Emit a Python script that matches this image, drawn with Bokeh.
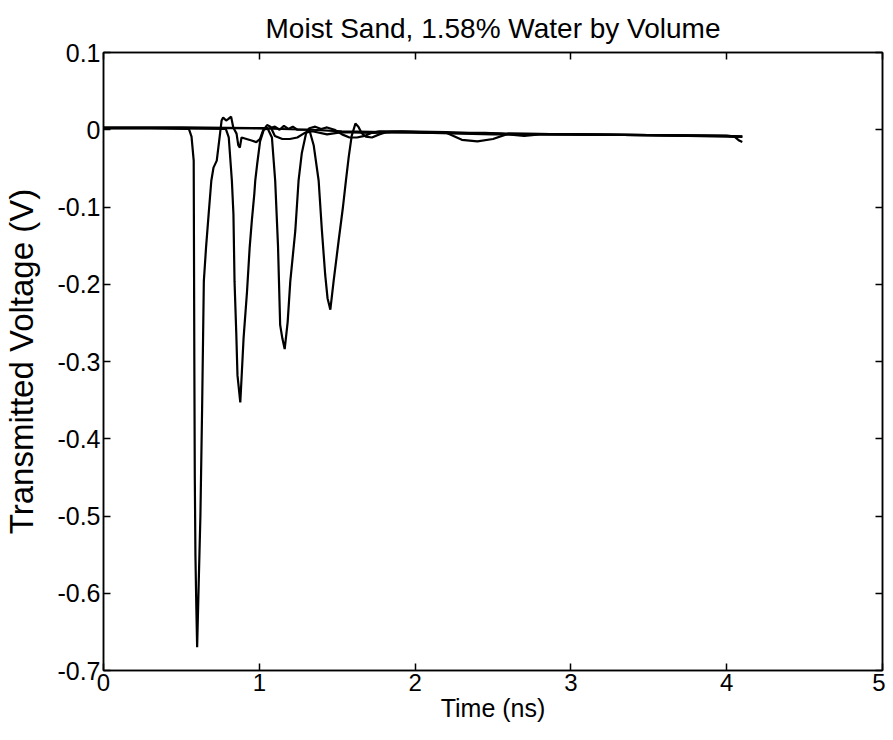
from bokeh.plotting import figure
from bokeh.models import FixedTicker, LinearAxis, CustomJSTickFormatter
from bokeh.embed import file_html
from bokeh.resources import INLINE

# ---- data (time in ns, voltage in V) ----
t_a = [0.0, 0.3, 0.548, 0.565, 0.579, 0.583, 0.586, 0.590, 0.596, 0.601, 0.611, 0.622,
       0.633, 0.644, 0.658, 0.675, 0.692, 0.706, 0.727, 0.748, 0.758, 0.768, 0.787, 0.802,
       0.819, 0.833, 0.854, 0.865, 0.875, 0.886, 0.918, 0.95, 0.981, 1.004, 1.026, 1.065,
       1.10, 1.13, 1.158, 1.187, 1.215, 1.244, 1.34, 1.53, 1.82, 2.2, 2.3, 2.4, 2.5, 2.6, 3.0,
       3.5, 4.0, 4.1]
v_a = [0.002, 0.002, 0.001, -0.009, -0.04, -0.30, -0.45, -0.55, -0.62, -0.67, -0.588, -0.50,
       -0.36, -0.196, -0.153, -0.109, -0.066, -0.049, -0.040, -0.005, 0.012, 0.016, 0.012, 0.014,
       0.017, 0.003, -0.005, -0.02, -0.023, -0.01, -0.012, -0.014, -0.016, -0.012, 0.0, 0.002,
       0.004, 0.0, 0.005, 0.001, 0.004, 0.0, 0.0, -0.002, -0.003, -0.004, -0.013, -0.015, -0.012, -0.005, -0.006,
       -0.007, -0.009, -0.009]

t_b = [0.0, 0.4, 0.785, 0.804, 0.824, 0.834, 0.841, 0.852, 0.860, 0.878, 0.888, 0.899,
       0.921, 0.938, 0.952, 0.968, 0.974, 0.986, 1.005, 1.029, 1.050, 1.072, 1.10, 1.148, 1.196,
       1.244, 1.292, 1.34, 1.435, 1.53, 1.72, 1.914, 2.5, 3.0, 3.5, 4.0, 4.05, 4.08, 4.1]
v_b = [0.002, 0.002, 0.001, -0.01, -0.066, -0.109, -0.196, -0.262, -0.318, -0.353, -0.314, -0.27,
       -0.21, -0.153, -0.118, -0.083, -0.066, -0.045, -0.015, 0.0, 0.006, 0.004, -0.008, -0.012, -0.012,
       -0.01, -0.004, -0.002, -0.006, -0.003, -0.004, -0.003, -0.006, -0.006, -0.007, -0.008, -0.009, -0.014, -0.016]

t_c = [0.0, 0.5, 1.053, 1.081, 1.102, 1.120, 1.134, 1.148, 1.163, 1.182, 1.199, 1.231, 1.252,
       1.273, 1.302, 1.321, 1.359, 1.397, 1.435, 1.483, 1.531, 1.579, 1.627, 1.675, 1.723, 1.77, 1.866,
       2.2, 2.6, 3.0, 3.5, 4.0, 4.1]
v_c = [0.002, 0.002, 0.002, -0.01, -0.066, -0.15, -0.253, -0.27, -0.284, -0.249, -0.196, -0.131, -0.066,
       -0.03, -0.003, 0.002, 0.004, 0.001, 0.003, 0.0, -0.006, -0.01, -0.01, -0.008, -0.004, -0.002, -0.002,
       -0.004, -0.005, -0.006, -0.007, -0.008, -0.009]

t_d = [0.0, 0.5, 0.957, 1.321, 1.349, 1.381, 1.402, 1.423, 1.438, 1.456, 1.477, 1.509, 1.537,
       1.556, 1.574, 1.593, 1.617, 1.636, 1.656, 1.684, 1.723, 1.77, 1.818, 1.914, 2.2, 2.35, 2.45,
       2.55, 2.7, 2.8, 3.0, 3.5, 4.0, 4.1]
v_d = [0.003, 0.003, 0.002, 0.0, -0.02, -0.066, -0.131, -0.188, -0.218, -0.233, -0.196, -0.144, -0.1,
       -0.066, -0.035, -0.008, 0.008, 0.004, -0.004, -0.009, -0.01, -0.006, -0.003, -0.002, -0.003, -0.004, -0.004,
       -0.005, -0.008, -0.006, -0.006, -0.007, -0.008, -0.009]

x_ticks = [0, 1, 2, 3, 4, 5]
y_ticks = [0.1, 0.0, -0.1, -0.2, -0.3, -0.4, -0.5, -0.6, -0.7]

title_text = "Moist Sand, 1.58% Water by Volume"
x_label = "Time (ns)"
y_label = "Transmitted Voltage (V)"

FONT = "Liberation Sans"

p = figure(width=885, height=724, x_range=(0, 5), y_range=(-0.7, 0.1),
           output_backend="svg", toolbar_location=None,
           min_border_left=94, min_border_right=3, min_border_top=52, min_border_bottom=0,
           title=title_text)

p.title.align = "center"
p.title.text_font = FONT
p.title.text_font_size = "28px"
p.title.text_font_style = "normal"
p.title.text_color = "black"
p.title.standoff = 18
p.title.text_line_height = 0.9

p.xgrid.visible = False
p.ygrid.visible = False
p.outline_line_color = "black"
p.outline_line_width = 1.5
p.background_fill_color = "white"
p.border_fill_color = "white"

for line_t, line_v in [(t_a, v_a), (t_b, v_b), (t_c, v_c), (t_d, v_d)]:
    p.line(line_t, line_v, line_color="black", line_width=2.2)

fmt = CustomJSTickFormatter(code="return Math.abs(tick) < 1e-9 ? '0' : (Number.isInteger(tick) ? tick.toString() : tick.toFixed(1));")

def style_axis(ax, ticks, show_labels=True):
    ax.ticker = FixedTicker(ticks=ticks)
    ax.formatter = fmt
    ax.major_tick_in = 7
    ax.major_tick_out = 0
    ax.minor_tick_line_color = None
    ax.axis_line_color = "black"
    ax.axis_line_width = 1.5
    ax.major_tick_line_color = "black"
    ax.major_tick_line_width = 1.5
    ax.major_label_text_font = FONT
    ax.major_label_text_color = "black"
    ax.axis_label_text_font = FONT
    ax.axis_label_text_font_style = "normal"
    ax.axis_label_text_color = "black"
    if show_labels:
        ax.major_label_text_font_size = "24px"
        ax.axis_label_text_font_size = "25px"
        ax.major_label_standoff = 4
        ax.axis_label_standoff = 0
    else:
        ax.major_label_text_font_size = "1px"
        ax.major_label_text_color = None
        ax.major_label_standoff = 0

style_axis(p.xaxis[0], x_ticks)
style_axis(p.yaxis[0], y_ticks)
p.xaxis[0].axis_label = x_label
p.yaxis[0].axis_label = y_label
p.yaxis[0].major_label_text_font_size = "25px"
p.yaxis[0].axis_label_text_font_size = "33px"
p.yaxis[0].major_label_standoff = 3
p.yaxis[0].axis_label_standoff = 14
p.xaxis[0].major_label_text_font_size = "24px"
p.xaxis[0].axis_label_text_font_size = "25px"
p.xaxis[0].major_label_standoff = 3
p.xaxis[0].axis_label_standoff = 0
p.xaxis[0].major_label_text_line_height = 0.9
p.xaxis[0].axis_label_text_line_height = 0.9

top_ax = LinearAxis()
style_axis(top_ax, x_ticks, show_labels=False)
p.add_layout(top_ax, "above")
right_ax = LinearAxis()
style_axis(right_ax, y_ticks, show_labels=False)
p.add_layout(right_ax, "right")

open("out.html", "w").write(file_html(p, INLINE))
